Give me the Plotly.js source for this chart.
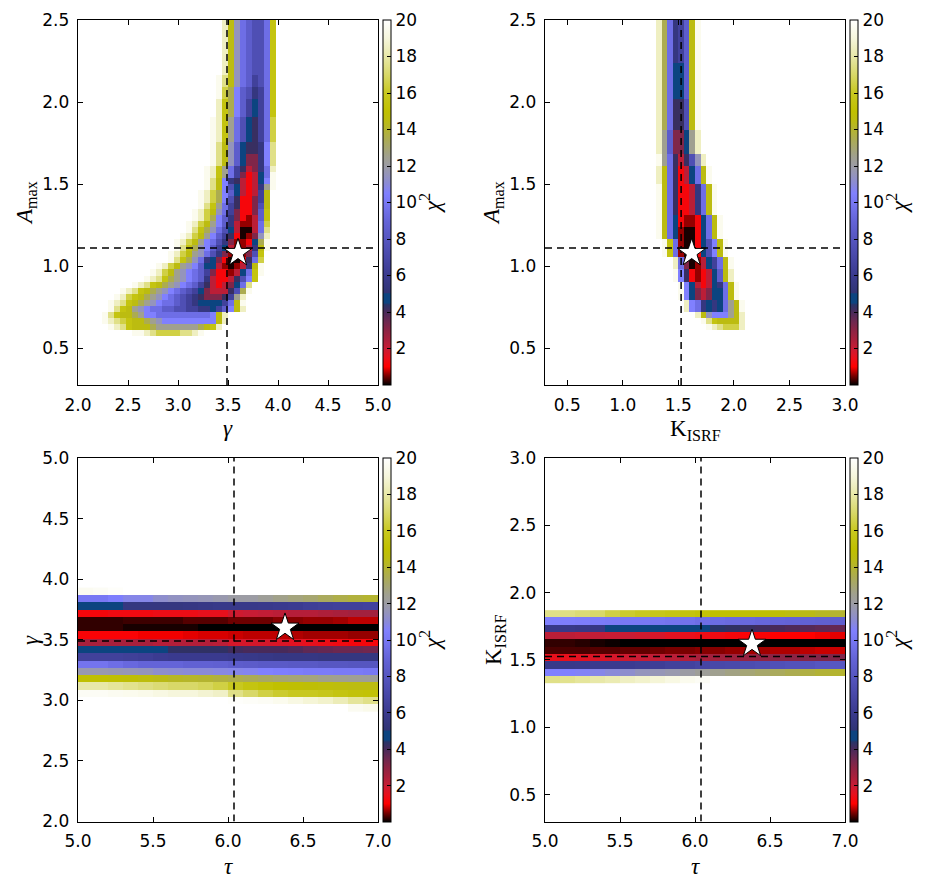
<!DOCTYPE html>
<html>
<head>
<meta charset="utf-8">
<script src="https://cdn.plot.ly/plotly-3.0.1.min.js"></script>
<style>html,body{margin:0;padding:0;background:#fff;}#chart{width:927px;height:887px;}</style>
</head>
<body>
<div id="chart"></div>
<script>
// ---------- value levels used by the coded rows (chi^2) ----------
const levelCodes  = "0123456789abcdefghijkl";
const levelValues = [0.1,0.6,1.2,2.2,3.2,4.2,4.8,5.5,6.5,7.5,8.5,9.5,10.5,11.5,12.5,13.5,14.5,15.5,16.5,17.5,18.5,19.5];

// ---------- panel 1 : gamma (x) vs A_max (y); rows listed top -> bottom ----------
// [firstRow, lastRow, firstColumn, codes]
const gammaAmaxRows = [
 [0,8,24,"kgdba99bh"],
 [9,10,23,"ljgdba89bh"],
 [11,12,23,"lifca978bh"],
 [13,15,23,"khfca868bh"],
 [16,19,22,"lkheb9658bi"],
 [20,21,22,"ljgda6557cj"],
 [22,23,22,"ljgda6447cj"],
 [24,24,21,"lkheb85347bk"],
 [25,25,21,"lkheb84236bl"],
 [26,26,21,"ljgc753236cl"],
 [27,27,21,"ljgc963237el"],
 [28,28,20,"lkifca63238g"],
 [29,29,20,"lkifc952248g"],
 [30,30,20,"ljheb852249g"],
 [31,31,19,"lkigdb84224ah"],
 [32,32,19,"lkifca74213ah"],
 [33,33,18,"lkigeca73113bi"],
 [34,34,18,"ljhfdb963003bj"],
 [35,35,17,"lkigeca852014dk"],
 [36,36,16,"lkigecb9741126fl"],
 [37,37,16,"ljhfdca8631137gl"],
 [38,38,15,"lkigedb97410149h"],
 [39,39,15,"ljhfdb76420025bi"],
 [40,40,13,"lkigedca66310137gl"],
 [41,41,12,"lkigedcba8422136bhl"],
 [42,42,11,"lkjhfedcba7322359ch"],
 [43,43,9,"lkjhgfedcba8532346bj"],
 [44,44,7,"lkjhgfedcba986433359fl"],
 [45,45,6,"lkihgfedcba987544458ek"],
 [46,46,5,"lkjhgfedcbba98766668bgl"],
 [47,47,5,"ljhgedcbbaa99887768acgk"],
 [48,48,4,"ljhggfeccbbbbbbbbbcgk"],
 [49,49,4,"lkjihggfedcccccccccgk"],
 [50,50,5,"lkjhgggfeeeeeeefghk"],
 [51,51,9,"llkjiiiijjkl"]
];

// ---------- panel 2 : K_ISRF (x) vs A_max (y) ----------
const kAmaxRows = [
 [0,6,20,"kfb78agl"],
 [7,12,20,"kfb66agl"],
 [13,17,20,"kfb559gl"],
 [18,21,20,"kea446ek"],
 [22,23,20,"leb5359dk"],
 [24,26,20,"kgb5236bgl"],
 [27,31,20,"lgb52237bgl"],
 [32,33,20,"lgb621126bgl"],
 [34,35,20,"lgb610026bgl"],
 [36,38,21,"lhb100269cgl"],
 [39,40,23,"kb401368bgl"],
 [41,42,23,"lc521236agk"],
 [43,43,24,"lc632367bgl"],
 [44,45,24,"lc643466bgl"],
 [46,47,25,"kcb7676begl"],
 [48,48,27,"kgdcccegk"],
 [49,49,28,"ljhggggk"],
 [50,50,29,"lkjiiik"]
];

// ---------- panel 3 : tau (x) vs gamma (y); rows top (gamma 3.90) -> bottom (2.94) ----------
const tauGammaRows = [
 [19.6,19.7,19.85,null,null,null,null,null,null,null,null,null,null,null,null,null,null,null,null,null],
 [10,10,10.4,10.8,10.8,11.2,11.4,11.5,11.6,11.8,12,12,12.3,12.6,12.8,13,13.3,13.6,13.8,14],
 [4.7,4.7,4.7,5.5,5.5,5.5,5.5,5.6,5.7,5.8,5.8,5.8,5.9,6.0,6.1,6.3,6.4,6.5,6.5,6.6],
 [1.2,1.2,1.3,1.3,1.3,1.4,1.4,1.4,1.5,1.5,1.9,2.0,2.1,2.2,2.3,2.3,2.4,2.5,2.6,2.6],
 [0.2,0.2,0.2,0.25,0.25,0.25,0.25,0.35,0.35,0.35,0.45,0.45,0.45,0.55,0.55,0.6,0.6,0.65,0.75,0.75],
 [0.2,0.2,0.2,0.1,0.1,0.1,0.1,0.1,0,0,0,0,0,0,0,0,0,0,0,0],
 [1.1,1.1,1.1,1.1,0.95,0.95,0.95,0.9,0.85,0.85,0.8,0.75,0.75,0.75,0.7,0.65,0.65,0.65,0.6,0.6],
 [2.5,2.5,2.5,2.5,2.5,2.3,2.3,2.3,2.3,2.2,1.8,1.8,1.8,1.7,1.6,1.5,1.4,1.3,1.2,1.2],
 [5.0,5.0,4.7,4.7,4.7,4.5,4.3,4.3,4.3,4.3,4.1,4.0,4.0,4.0,3.9,3.7,3.6,3.5,3.5,3.4],
 [6.5,6.5,6.5,6.4,6.3,6.1,6.0,6.0,6.0,6.0,5.9,5.8,5.7,5.6,5.6,5.6,5.5,5.5,5.5,5.5],
 [9.8,9.8,9.5,9.2,9.0,9.0,9.0,8.8,8.8,8.7,8.5,8.4,8.3,8.3,8.2,8.2,8.1,8.1,8.0,8.0],
 [11.8,11.8,11.7,11.6,11.5,11.2,11.1,11,11,10.9,10.8,10.7,10.5,10.4,10.3,10.2,10.2,10.1,10.1,10],
 [15,15,14.9,14.8,14.6,14.4,14.2,14.1,14,13.8,13.6,13.4,13.2,13,12.9,12.8,12.6,12.5,12.4,12.3],
 [18,18,17.8,17.6,17.4,17.2,17,17,16.8,16.5,16,15.5,15.2,15,14.9,14.8,14.7,14.6,14.5,14.5],
 [19.7,19.7,19.6,19.5,19.4,19.2,19,19,18.8,18.6,17.5,17,16.5,16.2,16,16,15.8,15.5,15.3,15.2],
 [null,null,null,null,null,null,null,null,null,null,19.9,19.8,19.7,19.5,19.2,18.9,18.7,18.3,17.8,17.5],
 [null,null,null,null,null,null,null,null,null,null,null,null,null,null,null,null,null,null,19.6,19.4]
];

// ---------- panel 4 : tau (x) vs K_ISRF (y); rows top (K 1.84) -> bottom (1.35) ----------
const tauKRows = [
 [17.5,17.4,17.2,17,16.5,16.2,16,15.8,15.6,15.4,15.2,15,15,14.9,14.9,14.8,14.6,14.4,14.2,14],
 [10.5,10.4,10.3,10.2,10.1,10,10,9.9,9.8,9.7,9.5,9.4,9.3,9.2,9.1,9,8.9,8.8,8.7,8.6],
 [5.8,5.8,5.7,5.6,4.7,4.7,4.7,4.7,4.7,4.7,4.5,4.4,4.3,4.2,4.1,4.0,3.9,3.8,3.7,3.6],
 [2.2,2.2,2.1,2.1,2.0,2.0,1.9,1.8,1.6,1.5,1.4,1.3,1.2,1.1,1.1,1.0,1.0,1.0,0.95,0.9],
 [0.2,0.2,0.15,0.1,0.05,0,0,0,0,0,0,0,0,0,0,0,0,0,0,0],
 [0.3,0.3,0.3,0.35,0.35,0.4,0.4,0.45,0.5,0.5,0.55,0.55,0.6,0.65,0.65,0.7,0.7,0.75,0.8,0.8],
 [1.5,1.5,1.6,1.7,1.8,1.9,2.0,2.1,2.2,2.3,2.5,2.6,2.7,2.8,2.9,3.0,3.0,3.1,3.2,3.2],
 [5.8,5.8,5.9,6.0,6.0,6.1,6.2,6.3,6.5,6.6,6.8,7.0,7.1,7.3,7.4,7.6,7.7,7.8,8.0,8.1],
 [10.5,10.5,10.6,10.8,11,11.2,11.5,11.6,11.8,12,12.3,12.5,12.7,12.9,13.1,13.3,13.5,13.7,13.9,14],
 [17.5,17.6,17.8,18,18.2,18.5,18.7,18.9,19.2,19.5,19.7,null,null,null,null,null,null,null,null,null]
];

// ---------- true values (dashed lines) and best fit (star) ----------
const trueGamma = 3.49, trueAmax = 1.11, trueK = 1.525, trueTau = 6.04;
const bestGamma = 3.60, bestAmax = 1.08, bestK = 1.62, bestTau = 6.38;

// ---------- grids ----------
const gammaGrid = {start: 2.0, step: 0.06, n: 50};
const kGrid     = {start: 0.3, step: 0.05, n: 54};
const amaxGrid  = {start: 0.275, step: 2.225/60, n: 60};
const tauGrid   = {start: 5.0, step: 0.1, n: 20};
const gammaRowGrid = {bottom: 2.94, step: 0.06};
const kRowGrid     = {bottom: 1.352, step: 0.0545};

// ---------- colour map (chi^2 value, colour) ----------
const chiColorStops = [
 [0.0,'#000000'],[0.5,'#7a0000'],[1.0,'#ff0000'],[1.5,'#e8101c'],[2.0,'#c81c34'],
 [2.5,'#a8203c'],[3.0,'#8c2444'],[3.5,'#6c2850'],[4.0,'#482a5a'],[4.4,'#283468'],
 [4.5,'#0c4480'],[5.0,'#0c4480'],[5.05,'#303474'],[6.0,'#3a3a8e'],[7.0,'#4848a8'],
 [8.0,'#5656c0'],[9.0,'#6464d8'],[10.0,'#7878f4'],[10.5,'#8080ff'],[11.0,'#8a8ad8'],
 [11.5,'#9494bc'],[12.0,'#9c9ca4'],[12.5,'#a0a090'],[13.0,'#a6a670'],[13.5,'#acac50'],
 [14.0,'#b4b430'],[14.5,'#bcbc10'],[15.0,'#c0c000'],[16.0,'#c8c820'],[17.0,'#d8d868'],
 [18.0,'#e8e8a8'],[19.0,'#f6f6dc'],[20.0,'#ffffff']
];
const chiMax = 20;
const colorscale = chiColorStops.map(s => [s[0]/chiMax, s[1]]);
const cbTicks = [2,4,6,8,10,12,14,16,18,20];

function decodeRows(spec, nRows, nCols){
  const grid = [];
  for (let r = 0; r < nRows; r++) grid.push(new Array(nCols).fill(null));
  spec.forEach(([r0, r1, c0, codes]) => {
    for (let r = r0; r <= r1; r++) {
      for (let i = 0; i < codes.length; i++) {
        const k = levelCodes.indexOf(codes[i]);
        if (k >= 0 && c0 + i < nCols) grid[r][c0 + i] = levelValues[k];
      }
    }
  });
  return grid.reverse(); // bottom row first for plotly
}

const W = 927, H = 887;
const px = v => v / W, py = v => 1 - v / H;
const topDom = [py(385), py(20)], botDom = [py(821.5), py(458)];
const leftDom = [px(78), px(378)], rightDom = [px(545), px(845)];

const tickFont = {family: 'DejaVu Sans, sans-serif', size: 17, color: '#000'};
function colorbar(xLeft, yTop, lenPx){
  return {thickness: 7.5, thicknessmode: 'pixels', len: lenPx, lenmode: 'pixels',
    x: px(xLeft), xanchor: 'left', y: py(yTop), yanchor: 'top', xpad: 0, ypad: 0,
    outlinewidth: 1, outlinecolor: '#000', tickvals: cbTicks, ticks: 'inside', ticklen: 4,
    tickcolor: '#000', tickfont: tickFont, ticklabelstandoff: 3};
}
function heat(z, xs, ys, xa, ya, cb){
  return {type: 'heatmap', z: z, x0: xs.x0, dx: xs.dx, y0: ys.y0, dy: ys.dy,
    xaxis: xa, yaxis: ya, colorscale: colorscale, zmin: 0, zmax: chiMax,
    zsmooth: false, hoverinfo: 'skip', colorbar: cb};
}
const dashStyle = {color: '#000', width: 1.5, dash: '7px,5px'};
function vline(xv, yr, xa, ya){ return {type:'scatter', mode:'lines', x:[xv,xv], y:yr, xaxis:xa, yaxis:ya, line:dashStyle, hoverinfo:'skip', cliponaxis:true}; }
function hline(yv, xr, xa, ya){ return {type:'scatter', mode:'lines', x:xr, y:[yv,yv], xaxis:xa, yaxis:ya, line:dashStyle, hoverinfo:'skip', cliponaxis:true}; }
function star(xv, yv, xa, ya){ return {type:'scatter', mode:'markers', x:[xv], y:[yv], xaxis:xa, yaxis:ya,
  marker:{symbol:'star', size:21, color:'#fff', line:{color:'#000', width:1}}, hoverinfo:'skip', cliponaxis:false}; }

const rangeGamma = [2, 5], rangeAmax = [0.275, 2.5], rangeK = [0.3, 3.0], rangeTau = [5, 7], rangeGammaY = [2, 5];

const data = [
  heat(decodeRows(gammaAmaxRows, amaxGrid.n, gammaGrid.n),
       {x0: gammaGrid.start + gammaGrid.step/2, dx: gammaGrid.step},
       {y0: amaxGrid.start + amaxGrid.step/2, dy: amaxGrid.step}, 'x', 'y', colorbar(383, 20, 365)),
  heat(decodeRows(kAmaxRows, amaxGrid.n, kGrid.n),
       {x0: kGrid.start + kGrid.step/2, dx: kGrid.step},
       {y0: amaxGrid.start + amaxGrid.step/2, dy: amaxGrid.step}, 'x2', 'y2', colorbar(850, 20, 365)),
  heat(tauGammaRows.slice().reverse(),
       {x0: tauGrid.start + tauGrid.step/2, dx: tauGrid.step},
       {y0: gammaRowGrid.bottom, dy: gammaRowGrid.step}, 'x3', 'y3', colorbar(383, 458, 363.5)),
  heat(tauKRows.slice().reverse(),
       {x0: tauGrid.start + tauGrid.step/2, dx: tauGrid.step},
       {y0: kRowGrid.bottom, dy: kRowGrid.step}, 'x4', 'y4', colorbar(850, 458, 363.5)),
  vline(trueGamma, rangeAmax, 'x', 'y'), hline(trueAmax, rangeGamma, 'x', 'y'),
  vline(trueK, rangeAmax, 'x2', 'y2'), hline(trueAmax, rangeK, 'x2', 'y2'),
  vline(trueTau, rangeGammaY, 'x3', 'y3'), hline(trueGamma, rangeTau, 'x3', 'y3'),
  vline(trueTau, rangeK, 'x4', 'y4'), hline(trueK, rangeTau, 'x4', 'y4'),
  star(bestGamma, bestAmax, 'x', 'y'), star(bestK, bestAmax, 'x2', 'y2'),
  star(bestTau, bestGamma, 'x3', 'y3'), star(bestTau, bestK, 'x4', 'y4')
];

function axis(dom, range, anchor){
  return {domain: dom, range: range, anchor: anchor, showline: true, linecolor: '#000', linewidth: 1.3,
    mirror: 'ticks', ticks: 'inside', ticklen: 5, tickwidth: 1, tickcolor: '#000', showgrid: false,
    zeroline: false, tickfont: tickFont, tickformat: '.1f', tick0: 0, dtick: 0.5, fixedrange: true,
    ticklabelstandoff: 4};
}
const titleFont = {family: 'Liberation Serif, DejaVu Serif, serif', size: 23, color: '#000'};
function label(text, x, y, angle){
  return {text: text, x: px(x), y: py(y), xref: 'paper', yref: 'paper', showarrow: false,
    xanchor: 'center', yanchor: 'middle', textangle: angle || 0, font: titleFont};
}
const chiLabel = '<i>χ</i><sup>2</sup>';
const layout = {
  width: W, height: H, margin: {l: 0, r: 0, t: 0, b: 0}, paper_bgcolor: '#fff', plot_bgcolor: '#fff',
  showlegend: false,
  xaxis: axis(leftDom, rangeGamma, 'y'), yaxis: axis(topDom, rangeAmax, 'x'),
  xaxis2: axis(rightDom, rangeK, 'y2'), yaxis2: axis(topDom, rangeAmax, 'x2'),
  xaxis3: axis(leftDom, rangeTau, 'y3'), yaxis3: axis(botDom, rangeGammaY, 'x3'),
  xaxis4: axis(rightDom, rangeTau, 'y4'), yaxis4: axis(botDom, rangeK, 'x4'),
  annotations: [
    label('<i>γ</i>', 228, 428), label('K<sub>ISRF</sub>', 695, 430),
    label('<i>τ</i>', 228, 866), label('<i>τ</i>', 695, 866),
    label('<i>A</i><sub>max</sub>', 26, 203, -90), label('<i>A</i><sub>max</sub>', 493, 203, -90),
    label('<i>γ</i>', 30, 640, -90), label('K<sub>ISRF</sub>', 495, 640, -90),
    label(chiLabel, 430, 203, -90), label(chiLabel, 897, 203, -90),
    label(chiLabel, 430, 640, -90), label(chiLabel, 897, 640, -90)
  ]
};
Plotly.newPlot('chart', data, layout, {staticPlot: true, displayModeBar: false});
</script>
</body>
</html>
